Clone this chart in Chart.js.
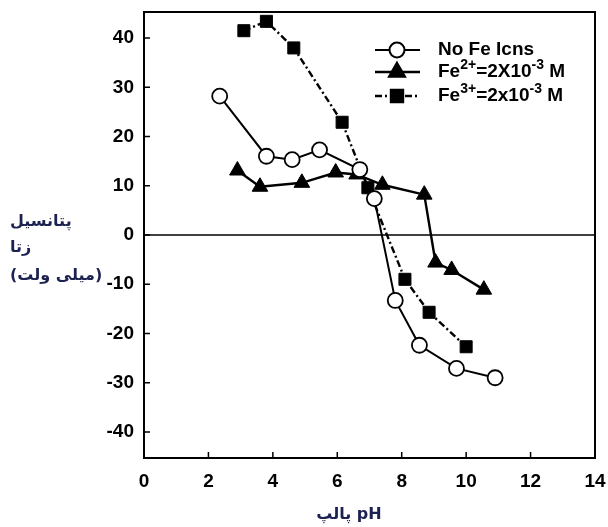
<!DOCTYPE html>
<html>
<head>
<meta charset="utf-8">
<script src="https://cdn.jsdelivr.net/npm/chart.js@4/dist/chart.umd.min.js"></script>
<style>
  html, body { margin: 0; padding: 0; background: #fff; }
</style>
</head>
<body>
<canvas id="zeta" width="608" height="527"></canvas>
<script>
// pH vs zeta potential, three solutions
const phNoFe = [2.35, 3.8, 4.6, 5.45, 6.7, 7.15, 7.8, 8.55, 9.7, 10.9];
const zetaNoFe = [28.2, 16.0, 15.3, 17.3, 13.3, 7.4, -13.3, -22.4, -27.1, -29.0];

const phFe2 = [2.9, 3.6, 4.9, 5.95, 6.6, 7.4, 8.7, 9.05, 9.55, 10.55];
const zetaFe2 = [13.1, 9.8, 10.6, 12.7, 12.3, 10.2, 8.2, -5.6, -7.1, -11.1];

const phFe3 = [3.1, 3.8, 4.65, 6.15, 6.95, 8.1, 8.85, 10.0];
const zetaFe3 = [41.5, 43.4, 38.0, 22.9, 9.6, -9.0, -15.7, -22.7];

const seriesLabels = ["No Fe Icns", "Fe^{2+}=2X10^{-3} M", "Fe^{3+}=2x10^{-3} M"];
const yTickValues = [-40, -30, -20, -10, 0, 10, 20, 30, 40];
const yTitleLines = ["پتانسیل", "زتا", "(میلی ولت)"];
const xTitle = "پالپ pH";

const toPoints = (xs, ys) => xs.map((x, i) => ({ x, y: ys[i] }));

Chart.defaults.font.family = "'Liberation Sans', Arial, sans-serif";
Chart.defaults.color = "#000";

// box around the plot, zero line and inward tick marks
const framePlugin = {
  id: "frame",
  beforeDatasetsDraw(chart) {
    const { ctx, chartArea: a, scales } = chart;
    const y0 = scales.y.getPixelForValue(0);
    ctx.save();
    ctx.strokeStyle = "#000";
    ctx.lineWidth = 1.6;
    ctx.beginPath();
    ctx.moveTo(a.left, y0);
    ctx.lineTo(a.right, y0);
    ctx.stroke();
    ctx.restore();
  },
  afterDraw(chart) {
    const { ctx, chartArea: a, scales } = chart;
    ctx.save();
    ctx.strokeStyle = "#000";
    ctx.lineWidth = 2;
    ctx.strokeRect(a.left, a.top, a.right - a.left, a.bottom - a.top);
    ctx.lineWidth = 1.5;
    ctx.beginPath();
    scales.y.ticks.forEach((t) => {
      const py = scales.y.getPixelForValue(t.value);
      ctx.moveTo(a.left, py);
      ctx.lineTo(a.left + 6, py);
    });
    scales.x.ticks.forEach((t) => {
      if (t.value <= scales.x.min || t.value >= scales.x.max) return;
      const px = scales.x.getPixelForValue(t.value);
      ctx.moveTo(px, a.bottom);
      ctx.lineTo(px, a.bottom - 6);
    });
    ctx.stroke();
    ctx.restore();
  },
};

// axis titles in Persian
const titlesPlugin = {
  id: "titles",
  afterDraw(chart) {
    const { ctx } = chart;
    ctx.save();
    ctx.fillStyle = "#1d2350";
    ctx.font = "bold 16px 'DejaVu Sans', sans-serif";
    ctx.textBaseline = "middle";
    ctx.direction = "rtl";
    ctx.textAlign = "left";
    const rows = [222, 248, 276];
    yTitleLines.forEach((line, i) => ctx.fillText(line, 10, rows[i]));
    ctx.direction = "ltr";
    ctx.textAlign = "center";
    ctx.fillText(xTitle, 349, 515);
    ctx.restore();
  },
};

// legend with line + marker samples and superscripts
function drawRich(ctx, text, x, y) {
  const parts = text.split(/(\^\{[^}]*\})/).filter(Boolean);
  parts.forEach((p) => {
    const sup = p.startsWith("^{");
    const s = sup ? p.slice(2, -1) : p;
    ctx.font = sup ? "bold 14px 'Liberation Sans', Arial" : "bold 19px 'Liberation Sans', Arial";
    ctx.fillText(s, x, sup ? y - 7 : y);
    x += ctx.measureText(s).width;
  });
}

const legendPlugin = {
  id: "richLegend",
  afterDraw(chart) {
    const { ctx, chartArea: a } = chart;
    const x0 = a.left + 231;
    const rows = [a.top + 38, a.top + 60, a.top + 84];
    ctx.save();
    chart.data.datasets.forEach((ds, i) => {
      const y = rows[i];
      ctx.strokeStyle = ds.borderColor;
      ctx.lineWidth = ds.borderWidth;
      ctx.setLineDash(ds.borderDash || []);
      ctx.beginPath();
      ctx.moveTo(x0, y);
      ctx.lineTo(x0 + 45, y);
      ctx.stroke();
      ctx.setLineDash([]);
      ctx.fillStyle = ds.pointBackgroundColor;
      ctx.strokeStyle = ds.pointBorderColor;
      Chart.helpers.drawPoint(ctx, {
        pointStyle: ds.pointStyle,
        radius: ds.pointRadius,
        borderWidth: ds.pointBorderWidth,
        rotation: 0,
      }, x0 + 22, y);
      ctx.fillStyle = "#000";
      ctx.textBaseline = "middle";
      ctx.textAlign = "left";
      drawRich(ctx, ds.label, x0 + 63, y);
    });
    ctx.restore();
  },
};

new Chart(document.getElementById("zeta"), {
  type: "scatter",
  data: {
    datasets: [
      {
        label: seriesLabels[0],
        data: toPoints(phNoFe, zetaNoFe),
        showLine: true,
        borderColor: "#000",
        borderWidth: 2,
        pointStyle: "circle",
        pointRadius: 7.5,
        pointBackgroundColor: "#fff",
        pointBorderColor: "#000",
        pointBorderWidth: 1.8,
      },
      {
        label: seriesLabels[1],
        data: toPoints(phFe2, zetaFe2),
        showLine: true,
        borderColor: "#000",
        borderWidth: 2.4,
        pointStyle: "triangle",
        pointRadius: 9,
        pointBackgroundColor: "#000",
        pointBorderColor: "#000",
        pointBorderWidth: 1,
      },
      {
        label: seriesLabels[2],
        data: toPoints(phFe3, zetaFe3),
        showLine: true,
        borderColor: "#000",
        borderWidth: 2.4,
        borderDash: [7, 3, 2, 3],
        pointStyle: "rect",
        pointRadius: 8.5,
        pointBackgroundColor: "#000",
        pointBorderColor: "#000",
        pointBorderWidth: 1,
      },
    ],
  },
  options: {
    responsive: false,
    animation: false,
    devicePixelRatio: 1,
    layout: { padding: { top: 12, right: 13, left: 0, bottom: 0 } },
    plugins: {
      legend: { display: false },
      tooltip: { enabled: false },
    },
    scales: {
      x: {
        type: "linear",
        min: 0,
        max: 14,
        grid: { display: false, drawTicks: false },
        border: { display: false },
        ticks: {
          stepSize: 2,
          padding: 12,
          font: { size: 19, weight: "bold" },
          color: "#000",
        },
        afterFit(scale) {
          scale.height = 69;
          scale.paddingLeft = 0;
          scale.paddingRight = 0;
        },
      },
      y: {
        type: "linear",
        min: -45.3,
        max: 45.3,
        grid: { display: false, drawTicks: false },
        border: { display: false },
        ticks: {
          padding: 10,
          font: { size: 19, weight: "bold" },
          color: "#000",
        },
        afterBuildTicks(scale) {
          scale.ticks = yTickValues.map((v) => ({ value: v }));
        },
        afterFit(scale) {
          scale.width = 144;
          scale.paddingTop = 0;
          scale.paddingBottom = 0;
        },
      },
    },
  },
  plugins: [framePlugin, titlesPlugin, legendPlugin],
});
</script>
</body>
</html>
